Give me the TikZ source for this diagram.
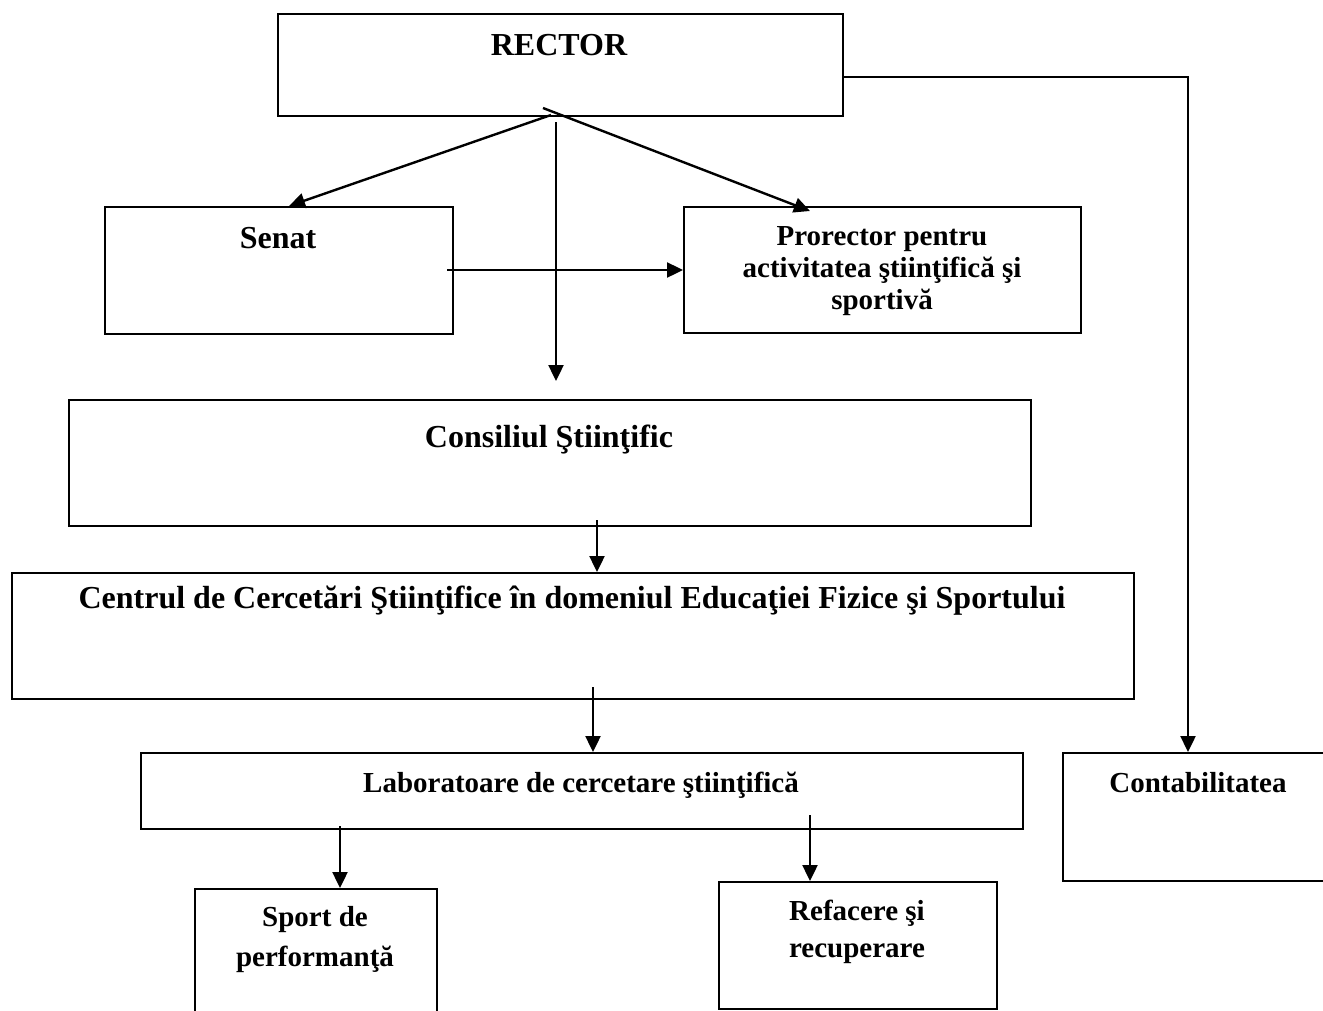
\documentclass[tikz,border=0pt]{standalone}
\usepackage{fontspec}
\setmainfont{Liberation Serif}
\usetikzlibrary{arrows.meta}
\begin{document}
\begin{tikzpicture}[x=1pt,y=-1pt,
  box/.style={draw, line width=2pt, anchor=north west, inner sep=0pt},
  lbl/.style={font=\fontsize{29}{32}\selectfont\bfseries, anchor=base, inner sep=0pt},
  lblb/.style={font=\fontsize{32}{35}\selectfont\bfseries, anchor=base, inner sep=0pt},
  arr/.style={line width=2.4pt, -{Triangle[length=16pt,width=15pt]}}]
\useasboundingbox (0,0) rectangle (1323,1010);
% boxes
\node[box, minimum width=565pt, minimum height=102pt] (rector) at (277,13) {};
\node[box, minimum width=348pt, minimum height=127pt] (senat) at (104,206) {};
\node[box, minimum width=397pt, minimum height=126pt] (prorector) at (683,206) {};
\node[box, minimum width=962pt, minimum height=126pt] (consiliul) at (68,399) {};
\node[box, minimum width=1122pt, minimum height=126pt] (centrul) at (11,572) {};
\node[box, minimum width=882pt, minimum height=76pt] (lab) at (140,752) {};
\node[box, minimum width=242pt, minimum height=160pt] (sport) at (194,888) {};
\node[box, minimum width=278pt, minimum height=127pt] (refacere) at (718,881) {};
\node[box, minimum width=290pt, minimum height=128pt] (contab) at (1062,752) {};
% labels
\node[lblb] (trector) at (559,55) {RECTOR};
\node[lblb] (tsenat) at (278,248) {Senat};
\node[lbl] (tpr1) at (882,245) {Prorector pentru};
\node[lbl] (tpr2) at (882,277) {activitatea ştiinţifică şi};
\node[lbl] (tpr3) at (882,309) {sportivă};
\node[lblb] (tcons) at (549,447) {Consiliul Ştiinţific};
\node[lblb] (tcentr) at (572,608) {Centrul de Cercetări Ştiinţifice în domeniul Educaţiei Fizice şi Sportului};
\node[lbl] (tlab) at (581,792) {Laboratoare de cercetare ştiinţifică};
\node[lbl] (tcontab) at (1198,792) {Contabilitatea};
\node[lbl] (tsp1) at (315,926) {Sport de};
\node[lbl] (tsp2) at (315,966) {performanţă};
\node[lbl] (tref1) at (857,920) {Refacere şi};
\node[lbl] (tref2) at (857,957) {recuperare};
% connector start points
\coordinate (rA) at (551,115);
\coordinate (rB) at (543,108);
\coordinate (rC) at (556,122);
\coordinate (rD) at (842,77);
\coordinate (rE) at (1188,77);
\coordinate (sA) at (447,270);
\coordinate (cB) at (597,520);
\coordinate (ceA) at (593,687);
\coordinate (lA) at (340,826);
\coordinate (lB) at (810,815);
\coordinate (vEnd) at (556,381);
% connectors
\draw[arr] (rA) -- (289,0 |- senat.north);
\draw[arr] (rB) -- (810,211);
\draw[arr] (rC) -- (vEnd);
\draw[arr] (sA) -- (prorector.west |- sA);
\draw[arr] (rD) -- (rE) -- (rE |- contab.north);
\draw[arr] (cB) -- (cB |- centrul.north);
\draw[arr] (ceA) -- (ceA |- lab.north);
\draw[arr] (lA) -- (lA |- sport.north);
\draw[arr] (lB) -- (lB |- refacere.north);
\end{tikzpicture}
\end{document}
